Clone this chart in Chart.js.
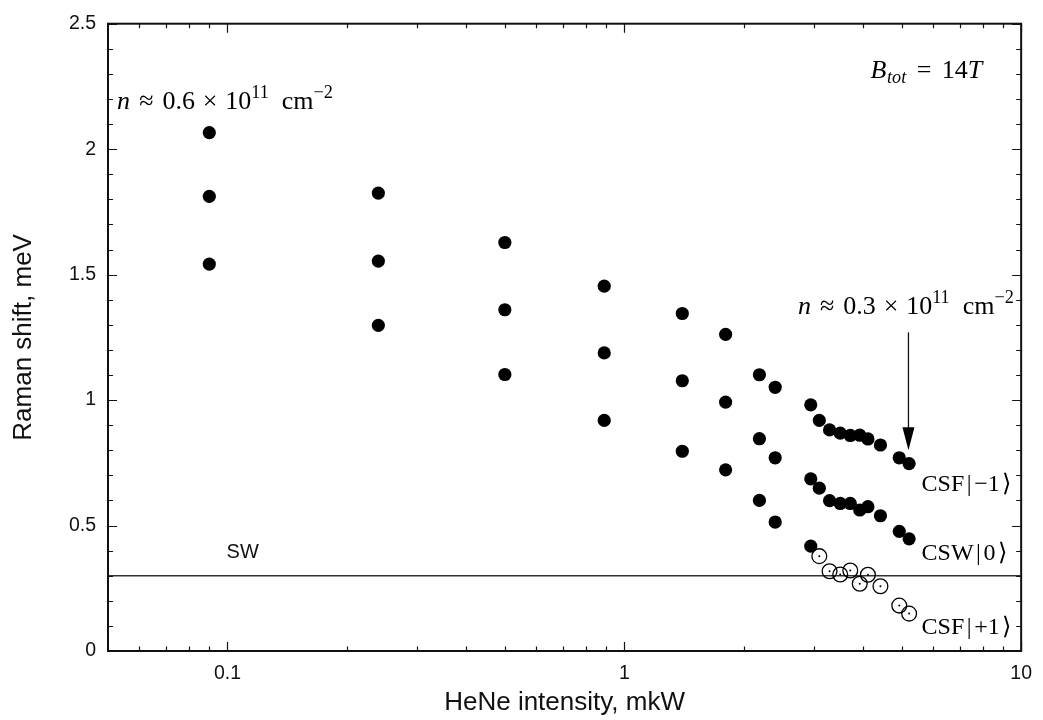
<!DOCTYPE html>
<html>
<head>
<meta charset="utf-8">
<script src="https://cdn.jsdelivr.net/npm/chart.js@4.4.1/dist/chart.umd.min.js"></script>
<style>
  html, body { margin: 0; padding: 0; background: #fff; }
  canvas { display: block; }
</style>
</head>
<body>
<canvas id="chart" width="1043" height="720"></canvas>
<script>
// HeNe intensity (mkW) for each measurement
const intensity = [0.09, 0.24, 0.5, 0.89, 1.4, 1.8, 2.19, 2.4, 2.95,
  3.10, 3.29, 3.50, 3.71, 3.92, 4.11, 4.42, 4.93, 5.22]

// Raman shift (meV) of the three lines
const csfMinus = [2.066, 1.825, 1.628, 1.454, 1.345, 1.262, 1.101, 1.051, 0.981,
  0.919, 0.881, 0.868, 0.859, 0.860, 0.845, 0.821, 0.770, 0.747]
const cswZero = [1.812, 1.554, 1.360, 1.188, 1.077, 0.992, 0.846, 0.770, 0.686,
  0.649, 0.599, 0.588, 0.588, 0.562, 0.575, 0.539, 0.477, 0.447]
// lowest line: solid points first, then open points below the SW level
const csfPlusSolid = [1.542, 1.298, 1.102, 0.919, 0.796, 0.722, 0.600, 0.514, 0.418]
const csfPlusOpen = [0.378, 0.318, 0.305, 0.321, 0.268, 0.304, 0.258, 0.181, 0.149]

const swLevel = 0.3
const xRange = [0.05, 10]
const yRange = [0, 2.5]

const xTicks = [0.06, 0.07, 0.08, 0.09, 0.1, 0.2, 0.3, 0.4, 0.5, 0.6, 0.7, 0.8, 0.9,
  1, 2, 3, 4, 5, 6, 7, 8, 9, 10]
const xLabels = [0.1, 1, 10]

const pts = (xs, ys) => ys.map((v, i) => ({ x: xs[i], y: v }))
const openX = intensity.slice(csfPlusSolid.length)

const isDecade = v => Math.abs(Math.log10(v) - Math.round(Math.log10(v))) < 1e-6
const isHalf = v => Math.abs(v * 2 - Math.round(v * 2)) < 1e-6

const SANS = '"Liberation Sans", Arial, Helvetica, sans-serif'
const SERIF = '"Liberation Serif", "Times New Roman", serif'

// draws a short formula; a part is [text, kind] or a number = extra space in em
function mathText(ctx, x, y, parts, size, align) {
  const font = kind => {
    const s = (kind === 'sup' || kind === 'isub') ? size * 0.7 : size
    const it = (kind === 'i' || kind === 'isub') ? 'italic ' : ''
    return it + s + 'px ' + SERIF
  }
  const width = p => {
    if (typeof p === 'number') return p * size
    ctx.font = font(p[1])
    return ctx.measureText(p[0]).width
  }
  const total = parts.reduce((s, p) => s + width(p), 0)
  let cx = align === 'right' ? x - total : x
  ctx.textAlign = 'left'
  ctx.textBaseline = 'alphabetic'
  parts.forEach(p => {
    if (typeof p !== 'number') {
      ctx.font = font(p[1])
      let dy = 0
      if (p[1] === 'sup') dy = -size * 0.42
      if (p[1] === 'isub') dy = size * 0.2
      ctx.fillText(p[0], cx, y + dy)
    }
    cx += width(p)
  })
}

const density = v => [['n', 'i'], 0.35, ['\u2248', ''], 0.35, [v, ''], 0.3, ['\u00d7', ''], 0.3,
  ['10', ''], ['11', 'sup'], 0.5, ['cm', ''], ['\u22122', 'sup']]
const ket = (name, n) => [[name, ''], 0.1, ['|', ''], 0.12, [n, ''], 0.08, ['\u27e9', '']]

const framePlugin = {
  id: 'frame',
  afterDraw(chart) {
    const { ctx, chartArea: a, scales: { x, y } } = chart
    ctx.save()
    ctx.strokeStyle = '#111'
    ctx.lineWidth = 1.2
    ctx.beginPath()
    x.ticks.forEach(t => {
      const px = Math.round(x.getPixelForValue(t.value)) + 0.5
      const len = isDecade(t.value) ? 9 : 4.5
      ctx.moveTo(px, a.bottom); ctx.lineTo(px, a.bottom - len)
      ctx.moveTo(px, a.top); ctx.lineTo(px, a.top + len)
    })
    y.ticks.forEach(t => {
      const py = Math.round(y.getPixelForValue(t.value)) + 0.5
      const len = isHalf(t.value) ? 9 : 5
      ctx.moveTo(a.left, py); ctx.lineTo(a.left + len, py)
      ctx.moveTo(a.right, py); ctx.lineTo(a.right - len, py)
    })
    ctx.stroke()

    ctx.lineWidth = 2
    ctx.strokeRect(a.left, a.top, a.right - a.left, a.bottom - a.top)

    // arrow pointing at the last measurement
    const ax = x.getPixelForValue(5.2)
    const ay0 = y.getPixelForValue(1.27)
    const ay1 = y.getPixelForValue(0.80)
    ctx.lineWidth = 1.3
    ctx.beginPath()
    ctx.moveTo(ax, ay0); ctx.lineTo(ax, ay1 - 20)
    ctx.stroke()
    ctx.fillStyle = '#000'
    ctx.beginPath()
    ctx.moveTo(ax - 6, ay1 - 23); ctx.lineTo(ax + 6, ay1 - 23); ctx.lineTo(ax, ay1)
    ctx.closePath(); ctx.fill()

    ctx.fillStyle = '#000'
    mathText(ctx, x.getPixelForValue(0.0527), y.getPixelForValue(2.161), density('0.6'), 26)
    mathText(ctx, x.getPixelForValue(9.58), y.getPixelForValue(1.345), density('0.3'), 26, 'right')
    mathText(ctx, x.getPixelForValue(4.17), y.getPixelForValue(2.284),
      [['B', 'i'], 0.03, ['tot', 'isub'], 0.4, ['=', ''], 0.4, ['14', ''], ['T', 'i']], 26)
    const lx = x.getPixelForValue(5.61)
    mathText(ctx, lx, y.getPixelForValue(0.638), ket('CSF', '\u22121'), 24)
    mathText(ctx, lx, y.getPixelForValue(0.364), ket('CSW', '0'), 24)
    mathText(ctx, lx, y.getPixelForValue(0.066), ket('CSF', '+1'), 24)

    ctx.fillStyle = '#111'
    ctx.font = '20px ' + SANS
    ctx.textAlign = 'left'
    ctx.textBaseline = 'alphabetic'
    ctx.fillText('SW', x.getPixelForValue(0.0995), y.getPixelForValue(0.370))
    ctx.restore()
  }
}

const solid = (data) => ({
  type: 'scatter',
  data,
  pointRadius: 6.6,
  pointBackgroundColor: '#000',
  pointBorderWidth: 0,
  pointBorderColor: '#000'
})

new Chart(document.getElementById('chart'), {
  type: 'scatter',
  data: {
    datasets: [
      solid(pts(intensity, csfMinus)),
      solid(pts(intensity, cswZero)),
      solid(pts(intensity, csfPlusSolid)),
      {
        data: pts(openX, csfPlusOpen),
        pointRadius: 7.4,
        pointBackgroundColor: 'rgba(255,255,255,0)',
        pointBorderColor: '#000',
        pointBorderWidth: 1.3
      },
      {
        data: pts(openX, csfPlusOpen),
        pointRadius: 1,
        pointBackgroundColor: '#000',
        pointBorderWidth: 0
      },
      {
        type: 'line',
        data: xRange.map(v => ({ x: v, y: swLevel })),
        borderColor: '#333',
        borderWidth: 1.6,
        pointRadius: 0
      }
    ]
  },
  options: {
    responsive: false,
    animation: false,
    events: [],
    layout: { padding: { left: 0, right: 21, top: 20, bottom: 0 } },
    plugins: { legend: { display: false }, tooltip: { enabled: false } },
    scales: {
      x: {
        type: 'logarithmic',
        min: xRange[0],
        max: xRange[1],
        afterBuildTicks: s => { s.ticks = xTicks.map(v => ({ value: v })) },
        afterFit: s => { s.height = 69 },
        grid: { display: false, drawTicks: false },
        border: { display: false },
        ticks: {
          autoSkip: false,
          maxRotation: 0,
          padding: 11,
          color: '#111',
          font: { family: SANS, size: 19.5 },
          callback: v => xLabels.some(l => Math.abs(l - v) < 1e-9) ? String(v) : ''
        },
        title: {
          display: true,
          text: 'HeNe intensity, mkW',
          color: '#111',
          font: { family: SANS, size: 26 },
          padding: { top: 0, bottom: 2 }
        }
      },
      y: {
        min: yRange[0],
        max: yRange[1],
        afterBuildTicks: s => {
          const t = []
          for (let i = 0; i <= 25; i++) t.push({ value: i / 10 })
          s.ticks = t
        },
        afterFit: s => { s.width = 108 },
        grid: { display: false, drawTicks: false },
        border: { display: false },
        ticks: {
          autoSkip: false,
          padding: 12,
          color: '#111',
          font: { family: SANS, size: 19.5 },
          callback: v => isHalf(v) ? String(Math.round(v * 10) / 10) : ''
        },
        title: {
          display: true,
          text: 'Raman shift, meV',
          color: '#111',
          font: { family: SANS, size: 26 },
          padding: { top: 8, bottom: 0 }
        }
      }
    }
  },
  plugins: [framePlugin]
})
</script>
</body>
</html>
